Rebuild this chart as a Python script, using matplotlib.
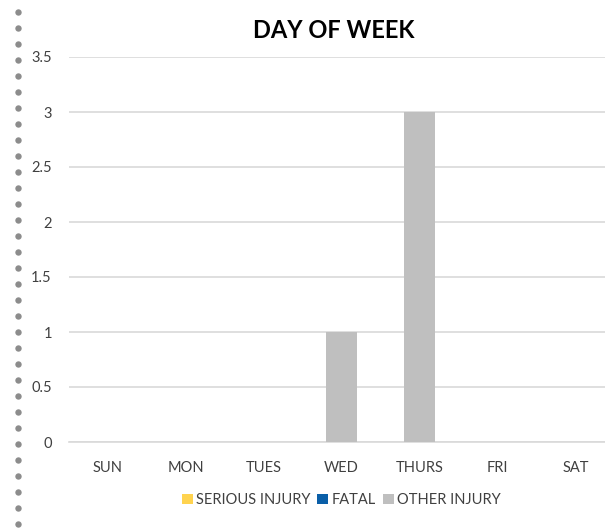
import matplotlib

matplotlib.use("Agg")

import matplotlib.pyplot as plt
from matplotlib.lines import Line2D
from matplotlib.patches import Patch
import numpy as np

days = ["SUN", "MON", "TUES", "WED", "THURS", "FRI", "SAT"]
serious_injury = [0, 0, 0, 0, 0, 0, 0]
fatal = [0, 0, 0, 0, 0, 0, 0]
other_injury = [0, 0, 0, 1, 3, 0, 0]

series_names = ["SERIOUS INJURY", "FATAL", "OTHER INJURY"]
series_colors = ["#ffd34f", "#0a5fa8", "#bfbfbf"]

plt.rcParams["font.family"] = ["Lato", "DejaVu Sans"]

fig = plt.figure(figsize=(6.05, 5.29), dpi=100)
ax = fig.add_axes([68.5 / 605, 1 - 442 / 529, 546 / 605, 385 / 529])

x = np.arange(len(days))
bottom = np.zeros(len(days))
for vals, color in zip([serious_injury, fatal, other_injury], series_colors):
    ax.bar(x, vals, width=0.4, bottom=bottom, color=color, zorder=3)
    bottom += np.asarray(vals, dtype=float)

ax.set_xlim(-0.5, len(days) - 0.5)
ax.set_ylim(0, 3.5)
ax.set_yticks([0, 0.5, 1, 1.5, 2, 2.5, 3, 3.5])
ax.set_yticklabels(["0", "0.5", "1", "1.5", "2", "2.5", "3", "3.5"])
ax.set_xticks(x)
ax.set_xticklabels(days)
ax.tick_params(axis="both", length=0, labelsize=10.5, colors="#404040")
ax.tick_params(axis="y", pad=12)
ax.tick_params(axis="x", pad=14)
ax.grid(axis="y", color="#d9d9d9", linewidth=1.2, zorder=0)
for side in ["top", "right", "left"]:
    ax.spines[side].set_visible(False)
ax.spines["bottom"].set_color("#d9d9d9")
ax.spines["bottom"].set_linewidth(1.2)

fig.text(334 / 605, 1 - 30 / 529, "DAY OF WEEK", ha="center", va="center",
         fontsize=17, fontweight="bold", color="#000000")

handles = [Patch(facecolor=c, edgecolor="none") for c in series_colors]
fig.legend(handles, series_names, loc="center", bbox_to_anchor=(341 / 605, 1 - 500 / 529),
           ncol=3, frameon=False, fontsize=10.5, handlelength=0.75, handleheight=0.75,
           handletextpad=0.2, columnspacing=0.5, labelcolor="#404040")

# dotted border on the left
dot_y = np.arange(12, 529, 16)
fig.add_artist(Line2D(np.full(len(dot_y), 18 / 605), 1 - dot_y / 529, linestyle="none",
                      marker="o", markersize=4.6, markerfacecolor="#8c8c8c",
                      markeredgecolor="none", transform=fig.transFigure))

fig.savefig("out.png", dpi=100)
